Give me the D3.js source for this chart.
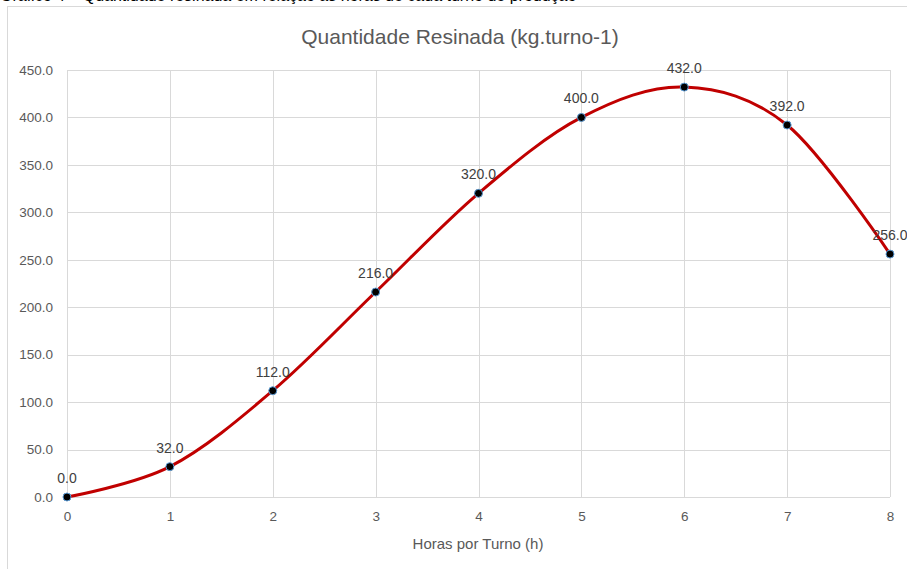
<!DOCTYPE html>
<html>
<head>
<meta charset="utf-8">
<script src="https://cdn.jsdelivr.net/npm/d3@7"></script>
<style>
  body { margin: 0; background: #fff; overflow: hidden; }
  svg { display: block; }
</style>
</head>
<body>
<div id="container"></div>
<script>
// chart data
const hours = [0, 1, 2, 3, 4, 5, 6, 7, 8];
const amounts = [0, 32, 112, 216, 320, 400, 432, 392, 256];
const yTicks = [0, 50, 100, 150, 200, 250, 300, 350, 400, 450];
const title = 'Quantidade Resinada (kg.turno-1)';
const xTitle = 'Horas por Turno (h)';
const caption = 'Gráfico 4 – Quantidade resinada em relação às horas de cada turno de produção';

// dimensions
const width = 907;
const height = 569;
const font = '"Liberation Sans", Arial, sans-serif';

const svg = d3.select('#container')
    .append('svg')
    .attr('width', width)
    .attr('height', height);

// cut-off caption above the chart
svg.append('text')
    .attr('x', 0)
    .attr('y', 1)
    .style('font-family', font)
    .style('font-size', '16px')
    .style('fill', '#000')
    .text(caption);

// chart frame
svg.append('rect')
    .attr('x', 7.5)
    .attr('y', 6.5)
    .attr('width', width + 10)
    .attr('height', height + 10)
    .style('fill', '#fff')
    .style('stroke', '#d9d9d9');

// scales
const xScale = d3.scaleLinear()
    .domain([0, 8])
    .range([67, 890]);

const yScale = d3.scaleLinear()
    .domain([0, 450])
    .range([497, 70]);

// gridlines
svg.append('g')
    .selectAll('line')
    .data(yTicks)
    .enter()
    .append('line')
    .attr('x1', xScale(0))
    .attr('x2', xScale(8))
    .attr('y1', (d) => Math.round(yScale(d)) + 0.5)
    .attr('y2', (d) => Math.round(yScale(d)) + 0.5)
    .style('stroke', '#d9d9d9');

svg.append('g')
    .selectAll('line')
    .data(hours)
    .enter()
    .append('line')
    .attr('x1', (d) => Math.round(xScale(d)) + 0.5)
    .attr('x2', (d) => Math.round(xScale(d)) + 0.5)
    .attr('y1', yScale(450))
    .attr('y2', yScale(0))
    .style('stroke', '#d9d9d9');

// axes
const xAxis = d3.axisBottom(xScale)
    .tickValues(hours)
    .tickFormat(d3.format('d'))
    .tickSize(0)
    .tickPadding(14);

const yAxis = d3.axisLeft(yScale)
    .tickValues(yTicks)
    .tickFormat(d3.format('.1f'))
    .tickSize(0)
    .tickPadding(14);

const gx = svg.append('g')
    .attr('transform', `translate(0, ${yScale(0)})`)
    .call(xAxis);

const gy = svg.append('g')
    .attr('transform', `translate(${xScale(0)}, 0)`)
    .call(yAxis);

[gx, gy].forEach((g) => {
    g.select('.domain').remove();
    g.selectAll('text')
        .style('font-family', font)
        .style('font-size', '13.5px')
        .style('fill', '#595959');
});

// smoothed line
const line = d3.line()
    .x((d, i) => xScale(hours[i]))
    .y((d) => yScale(d))
    .curve(d3.curveCatmullRom.alpha(0));

svg.append('path')
    .datum(amounts)
    .attr('d', line)
    .style('fill', 'none')
    .style('stroke', '#c00000')
    .style('stroke-width', 3);

// markers
svg.selectAll('circle')
    .data(amounts)
    .enter()
    .append('circle')
    .attr('cx', (d, i) => xScale(hours[i]))
    .attr('cy', (d) => yScale(d))
    .attr('r', 4)
    .style('fill', '#000')
    .style('stroke', '#5b9bd5')
    .style('stroke-width', 1);

// data labels
svg.selectAll('.label')
    .data(amounts)
    .enter()
    .append('text')
    .attr('class', 'label')
    .attr('x', (d, i) => xScale(hours[i]))
    .attr('y', (d) => yScale(d) - 14)
    .attr('text-anchor', 'middle')
    .style('font-family', font)
    .style('font-size', '14px')
    .style('fill', '#404040')
    .text((d) => d3.format('.1f')(d));

// titles
svg.append('text')
    .attr('x', 460)
    .attr('y', 44)
    .attr('text-anchor', 'middle')
    .style('font-family', font)
    .style('font-size', '21px')
    .style('fill', '#595959')
    .text(title);

svg.append('text')
    .attr('x', 478)
    .attr('y', 549)
    .attr('text-anchor', 'middle')
    .style('font-family', font)
    .style('font-size', '15px')
    .style('fill', '#595959')
    .text(xTitle);
</script>
</body>
</html>
